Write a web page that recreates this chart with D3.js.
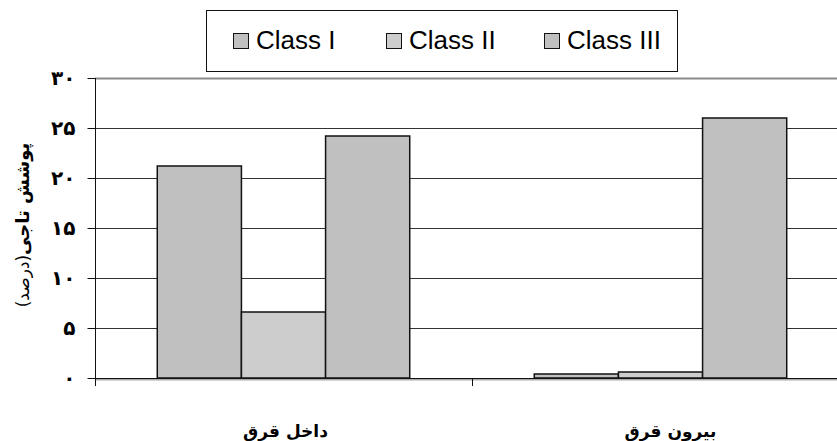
<html>
<head>
  <meta charset="utf-8">
  <script src="https://d3js.org/d3.v7.min.js"></script>
  <style>
    body { margin: 0; background: #fff; }
  </style>
</head>
<body>
  <div id="chart"></div>
  <script>
  // data
  var categories = ["داخل قرق", "بیرون قرق"];
  var seriesNames = ["Class I", "Class II", "Class III"];
  var classI = [21.2, 0.4];
  var classII = [6.6, 0.6];
  var classIII = [24.2, 26.0];
  var yTickValues = [0, 5, 10, 15, 20, 25, 30];
  var yTickLabels = ["۰", "۵", "۱۰", "۱۵", "۲۰", "۲۵", "۳۰"];
  var seriesColors = ["#c0c0c0", "#cdcdcd", "#c0c0c0"];

  var values = [classI, classII, classIII];

  var W = 837, H = 441;
  var plotLeft = 95, plotRight = 849, plotTop = 78, plotBottom = 378;

  var svg = d3.select("#chart").append("svg")
    .attr("width", W)
    .attr("height", H);

  var x0 = d3.scaleBand().domain(categories).range([plotLeft, plotRight]);
  var x1 = d3.scaleBand().domain(seriesNames)
    .range([0, x0.bandwidth()])
    .paddingInner(0)
    .paddingOuter(0.74);
  var y = d3.scaleLinear().domain([0, 30]).range([plotBottom, plotTop]);

  // gridlines
  svg.append("g")
    .selectAll("line")
    .data(yTickValues.filter(function(d) { return d > 0 && d < 30; }))
    .enter().append("line")
      .attr("x1", plotLeft).attr("x2", W)
      .attr("y1", function(d) { return y(d) + 0.5; })
      .attr("y2", function(d) { return y(d) + 0.5; })
      .attr("stroke", "#333")
      .attr("stroke-width", 1);

  // top line at 30
  svg.append("line")
    .attr("x1", plotLeft).attr("x2", W)
    .attr("y1", y(30) + 0.5).attr("y2", y(30) + 0.5)
    .attr("stroke", "#8a8a8a")
    .attr("stroke-width", 2);

  // bars
  var rows = categories.map(function(c, i) {
    return seriesNames.map(function(s, j) { return {cat: c, s: s, j: j, v: values[j][i]}; });
  });

  svg.append("g")
    .selectAll("g")
    .data(rows)
    .enter().append("g")
      .attr("transform", function(d) { return "translate(" + x0(d[0].cat) + ",0)"; })
    .selectAll("rect")
    .data(function(d) { return d; })
    .enter().append("rect")
      .attr("x", function(d) { return x1(d.s); })
      .attr("y", function(d) { return y(d.v); })
      .attr("width", x1.bandwidth())
      .attr("height", function(d) { return y(0) - y(d.v); })
      .attr("fill", function(d) { return seriesColors[d.j]; })
      .attr("stroke", "#111")
      .attr("stroke-width", 1.5);

  // x axis
  svg.append("line")
    .attr("x1", plotLeft).attr("x2", W)
    .attr("y1", plotBottom + 1.5).attr("y2", plotBottom + 1.5)
    .attr("stroke", "#aaa")
    .attr("stroke-width", 2);
  var xAxis = svg.append("g")
    .attr("transform", "translate(0," + (plotBottom + 0.5) + ")")
    .call(d3.axisBottom(x0).tickValues([]).tickSizeOuter(0));
  xAxis.select(".domain").attr("stroke", "#111").attr("d", "M" + plotLeft + ",0H" + W);
  // category separator tick
  svg.append("line")
    .attr("x1", x0(categories[1]) + 0.5).attr("x2", x0(categories[1]) + 0.5)
    .attr("y1", plotBottom).attr("y2", plotBottom + 8)
    .attr("stroke", "#111");

  // category labels
  svg.append("g")
    .selectAll("text")
    .data(categories)
    .enter().append("text")
      .attr("x", function(d, i) { return x0(d) + x0.bandwidth() / 2 + (i === 0 ? 2 : 10); })
      .attr("y", 437)
      .attr("text-anchor", "middle")
      .style("font-family", "DejaVu Sans")
      .style("font-weight", "bold")
      .style("font-size", "17px")
      .text(function(d) { return d; });

  // y axis
  var yAxis = svg.append("g")
    .attr("transform", "translate(" + (plotLeft + 0.5) + ",0)")
    .call(d3.axisLeft(y).tickValues(yTickValues).tickSize(8).tickSizeOuter(0)
      .tickFormat(function(d, i) { return yTickLabels[i]; }));
  yAxis.select(".domain").attr("stroke", "#111")
    .attr("d", "M0," + plotTop + "V" + (plotBottom + 8));
  yAxis.selectAll(".tick line").attr("stroke", "#111");
  yAxis.selectAll(".tick text")
    .attr("x", -20)
    .style("font-family", "DejaVu Sans")
    .style("font-weight", "bold")
    .style("font-size", "20px")
    .attr("fill", "#000");

  // y label
  var yl = svg.append("text")
    .attr("transform", "translate(29," + 225 + ") rotate(-90)")
    .attr("text-anchor", "middle")
    .style("font-family", "DejaVu Sans")
    .style("font-size", "18px")
    .attr("direction", "rtl");
  yl.append("tspan").style("font-weight", "bold").text("پوشش تاجی");
  yl.append("tspan").style("font-size", "17px").text("(درصد)");

  // legend
  var legend = svg.append("g");
  legend.append("rect")
    .attr("x", 206.5).attr("y", 10.5)
    .attr("width", 471).attr("height", 61)
    .attr("fill", "#fff")
    .attr("stroke", "#111");
  var legX = [233, 386, 544];
  var items = legend.selectAll("g.item")
    .data(seriesNames)
    .enter().append("g")
      .attr("class", "item")
      .attr("transform", function(d, i) { return "translate(" + legX[i] + ",33)"; });
  items.append("rect")
    .attr("x", 0.5).attr("y", 0.5)
    .attr("width", 15).attr("height", 15)
    .attr("fill", function(d, i) { return seriesColors[i]; })
    .attr("stroke", "#111");
  items.append("text")
    .attr("x", 23)
    .attr("y", 16)
    .style("font-family", "Liberation Sans, Arial, sans-serif")
    .style("font-size", "26px")
    .text(function(d) { return d; });
  </script>
</body>
</html>
